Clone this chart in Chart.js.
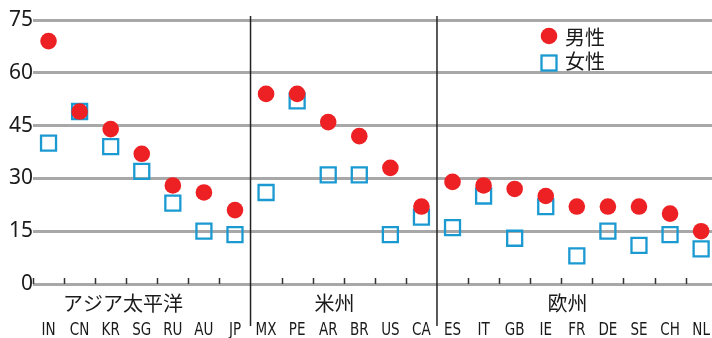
<!DOCTYPE html>
<html>
<head>
<meta charset="utf-8">
<script src="https://cdn.jsdelivr.net/npm/chart.js@4"></script>
<style>
  html, body { margin: 0; padding: 0; background: #fff; }
  #wrap { width: 712px; height: 338px; }
</style>
</head>
<body>
<div id="wrap"><canvas id="chart" width="712" height="338"></canvas></div>
<script>
// ── データ ─────────────────────────────
const codes  = ['IN','CN','KR','SG','RU','AU','JP','MX','PE','AR','BR','US','CA','ES','IT','GB','IE','FR','DE','SE','CH','NL'];
const dansei = [69, 49, 44, 37, 28, 26, 21, 54, 54, 46, 42, 33, 22, 29, 28, 27, 25, 22, 22, 22, 20, 15];
const josei  = [40, 49, 39, 32, 23, 15, 14, 26, 52, 31, 31, 14, 19, 16, 25, 13, 22, 8, 15, 11, 14, 10];
const groups = [
  { name: 'アジア太平洋', from: 0,  to: 6 },
  { name: '米州',         from: 7,  to: 12 },
  { name: '欧州',         from: 13, to: 21 }
];
const yTicks = [0, 15, 30, 45, 60, 75];

const RED  = '#ed2024';
const BLUE = '#1b9ad2';
const INK  = '#1a1a1a';
const CJK  = '"Noto Sans CJK JP", sans-serif';
const NARROW = '"Liberation Sans Narrow", "DejaVu Sans Condensed", sans-serif';

// ── 区切り線・目盛り・国名・グループ名・凡例 ──
const decor = {
  id: 'decor',
  afterDatasetsDraw(chart) {
    const { ctx, scales: { x, y } } = chart;
    const base = y.getPixelForValue(0);
    ctx.save();

    // 短い目盛り（グループ境界は除く）
    ctx.strokeStyle = '#333';
    ctx.lineWidth = 1.5;
    const bounds = groups.slice(1).map(g => g.from - 0.5);
    for (let v = -0.5; v < codes.length - 1; v++) {
      if (bounds.includes(v)) continue;
      const px = Math.round(x.getPixelForValue(v)) + 0.5;
      ctx.beginPath(); ctx.moveTo(px, base - 6); ctx.lineTo(px, base); ctx.stroke();
    }

    // グループ区切り
    ctx.strokeStyle = '#222';
    ctx.lineWidth = 1.5;
    bounds.forEach(v => {
      const px = x.getPixelForValue(v);
      ctx.beginPath(); ctx.moveTo(px, 16); ctx.lineTo(px, 326); ctx.stroke();
    });

    ctx.fillStyle = INK;
    ctx.textAlign = 'center';
    ctx.textBaseline = 'middle';

    // 国名（縦長の書体に寄せる）
    ctx.save();
    ctx.font = '15px ' + NARROW;
    ctx.scale(1, 1.2);
    codes.forEach((c, i) => ctx.fillText(c, x.getPixelForValue(i), 330 / 1.2));
    ctx.restore();

    // グループ名（中央より少し左寄せ）
    const shift = [-0.6, -0.3, -0.3];
    ctx.font = '20px ' + CJK;
    groups.forEach((g, k) => {
      const px = x.getPixelForValue((g.from + g.to) / 2 + shift[k]);
      ctx.fillText(g.name, px, 303);
    });

    // 凡例
    const lx = 549;
    ctx.fillStyle = RED;
    ctx.beginPath(); ctx.arc(lx, 36, 8.3, 0, Math.PI * 2); ctx.fill();
    ctx.strokeStyle = BLUE;
    ctx.lineWidth = 2.3;
    ctx.strokeRect(lx - 7.5, 55.5, 15, 15);
    ctx.fillStyle = INK;
    ctx.font = '20px ' + CJK;
    ctx.textAlign = 'left';
    ctx.fillText('男性', 565, 37);
    ctx.fillText('女性', 565, 61);
    ctx.restore();
  }
};

new Chart(document.getElementById('chart'), {
  type: 'scatter',
  data: {
    datasets: [
      {
        label: '女性',
        data: josei.map((v, i) => ({ x: i, y: v })),
        pointStyle: 'rect',
        pointRadius: 10.6,
        pointBorderWidth: 2.3,
        pointBorderColor: BLUE,
        pointBackgroundColor: 'rgba(255,255,255,0)',
        clip: false,
        order: 2
      },
      {
        label: '男性',
        data: dansei.map((v, i) => ({ x: i, y: v })),
        pointStyle: 'circle',
        pointRadius: 8.3,
        pointBorderWidth: 0,
        pointBackgroundColor: RED,
        clip: false,
        order: 1
      }
    ]
  },
  options: {
    responsive: false,
    animation: false,
    layout: { autoPadding: false, padding: { top: 20, right: 0, left: 0, bottom: 54 } },
    plugins: { legend: { display: false }, tooltip: { enabled: false } },
    scales: {
      x: {
        type: 'linear',
        min: -0.5,
        max: 21.35,
        grid: { display: false, drawTicks: false },
        border: { display: false },
        ticks: { display: false }
      },
      y: {
        min: 0,
        max: 75,
        afterBuildTicks: s => { s.ticks = yTicks.map(v => ({ value: v })); },
        afterFit: s => { s.width = 33; },
        grid: { color: '#a8a8a8', lineWidth: 3, drawTicks: false },
        border: { display: false },
        ticks: {
          padding: 0,
          color: INK,
          font: { family: '"Noto Sans", sans-serif', size: 21 }
        }
      }
    }
  },
  plugins: [decor]
});
</script>
</body>
</html>
